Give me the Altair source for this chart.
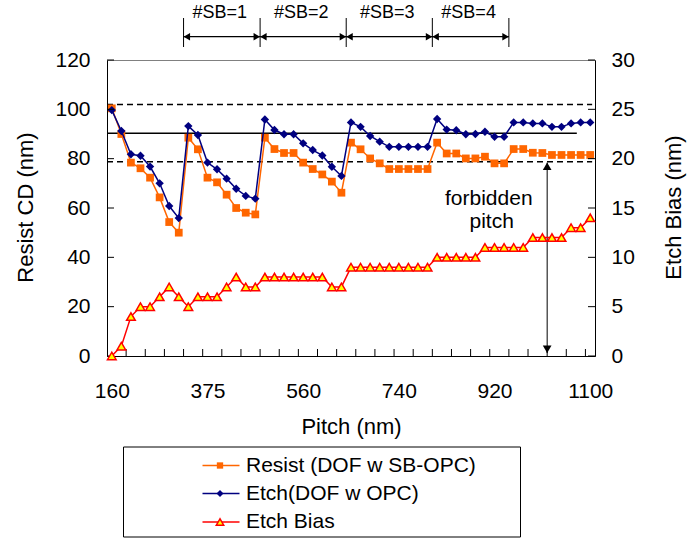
import json
import altair as alt
import pandas as pd

# ---------------- data ----------------
pitch_tick_labels = ["160", "375", "560", "740", "920", "1100"]
pitch_tick_index = [0, 10, 20, 30, 40, 50]

resist_cd = [100.4, 90.0, 78.4, 76.1, 72.3, 64.3, 54.3, 50.0,
             88.5, 83.8, 72.3, 70.4, 65.4, 60.0, 58.1, 57.4,
             88.5, 83.9, 82.3, 82.3, 78.4, 75.8, 73.6, 70.7, 66.2,
             86.5, 83.8, 80.1, 78.1, 75.8, 75.8, 75.8, 75.8, 75.8,
             86.5, 82.1, 82.1, 80.1, 80.1, 80.8, 78.1, 78.1,
             83.9, 83.9, 82.4, 82.3, 81.5, 81.5, 81.5, 81.5, 81.5]

etch_cd = [99.7, 91.2, 81.8, 81.2, 76.8, 70.0, 60.8, 55.9,
           93.2, 89.6, 78.4, 75.7, 71.9, 67.8, 64.9, 63.8,
           95.9, 91.6, 89.9, 89.9, 86.2, 83.5, 81.3, 76.7, 73.0,
           94.7, 92.9, 89.2, 86.9, 84.8, 84.8, 84.8, 84.8, 84.8,
           96.1, 91.8, 91.5, 89.9, 90.0, 90.9, 88.9, 88.9,
           94.7, 94.7, 94.3, 94.3, 92.9, 92.9, 94.3, 94.7, 94.7]

etch_bias = [0, 1, 4, 5, 5, 6, 7, 6,
             5, 6, 6, 6, 7, 8, 7, 7,
             8, 8, 8, 8, 8, 8, 8, 7, 7,
             9, 9, 9, 9, 9, 9, 9, 9, 9,
             10, 10, 10, 10, 10, 11, 11, 11,
             11, 11, 12, 12, 12, 12, 13, 13, 14]

cd_limits = [102.0, 78.8]
cd_target = [90.3]

sb_bounds = [7.5, 15.5, 24.5, 33.5, 41.5]
sb_labels = ["#SB=1", "#SB=2", "#SB=3", "#SB=4"]

forbidden_index = [45.5]
forbidden_top = [78.4]
forbidden_bottom = [1.2]
forbidden_text = ["forbidden", "pitch"]

left_ticks = [0, 20, 40, 60, 80, 100, 120]
right_ticks = [0, 5, 10, 15, 20, 25, 30]

legend_labels = ["Resist (DOF w SB-OPC)", "Etch(DOF w OPC)", "Etch Bias"]

# ---------------- styling ----------------
FONT = "Liberation Sans"
ORANGE = "#FF6600"
NAVY = "#000080"
RED = "#FF0000"
YELLOW = "#FFFF00"
W, H = 488, 296

x_scale = alt.Scale(domain=[-0.5, 50.5], nice=False, zero=False)
yl_scale = alt.Scale(domain=[0, 120], nice=False, zero=False)
yr_scale = alt.Scale(domain=[0, 30], nice=False, zero=False)

label_expr = json.dumps(pitch_tick_labels) + "[round(datum.value / 10)]"

x_axis = alt.Axis(values=pitch_tick_index, labelExpr=label_expr, ticks=False, grid=False,
                  domainColor="black", domainWidth=1, labelFont=FONT, labelFontSize=21,
                  labelColor="black", labelPadding=24, labelOverlap=False, labelFlush=False,
                  title="Pitch (nm)", titleFont=FONT, titleFontSize=22, titleFontWeight="normal",
                  titleColor="black", titleX=W / 2, titleY=77, titleAlign="center",
                  titleBaseline="alphabetic")

yl_axis = alt.Axis(orient="left", values=left_ticks, ticks=False, grid=False,
                   domainColor="black", domainWidth=1, labelFont=FONT, labelFontSize=21,
                   labelColor="black", labelPadding=17, labelFlush=False,
                   title="Resist CD (nm)", titleFont=FONT, titleFontSize=22,
                   titleFontWeight="normal", titleColor="black", titleAngle=270,
                   titleX=-82, titleY=147, titleAlign="center", titleBaseline="middle")

yr_axis = alt.Axis(orient="right", values=right_ticks, ticks=False, grid=False,
                   domainColor="black", domainWidth=1, labelFont=FONT, labelFontSize=21,
                   labelColor="black", labelPadding=16, labelFlush=False,
                   title="Etch Bias (nm)", titleFont=FONT, titleFontSize=22,
                   titleFontWeight="normal", titleColor="black", titleAngle=270,
                   titleX=78, titleY=147, titleAlign="center", titleBaseline="middle")

df = pd.DataFrame({"idx": list(range(len(resist_cd))), "resist": resist_cd,
                   "etch": etch_cd, "bias": etch_bias})
base = alt.Chart(df)


def xq(field):
    return alt.X(field, type="quantitative", scale=x_scale, axis=None)


def yl(field):
    return alt.Y(field, type="quantitative", scale=yl_scale, axis=None)


# reference lines
lim_df = pd.DataFrame({"v": cd_limits, "x0": [-0.5, -0.5], "x1": [50.2, 50.2]})
tgt_df = pd.DataFrame({"v": cd_target, "x0": [-0.5], "x1": [48.6]})
lim_rule = alt.Chart(lim_df).mark_rule(color="black", strokeWidth=1.5, strokeDash=[6, 4]).encode(
    x=xq("x0"), x2="x1", y=yl("v"))
tgt_rule = alt.Chart(tgt_df).mark_rule(color="black", strokeWidth=1.5).encode(
    x=xq("x0"), x2="x1", y=yl("v"))

# main series
resist_line = base.mark_line(color=ORANGE, strokeWidth=1.5).encode(
    x=alt.X("idx:Q", scale=x_scale, axis=x_axis),
    y=alt.Y("resist:Q", scale=yl_scale, axis=yl_axis))
resist_pts = base.mark_point(shape="square", filled=True, color=ORANGE, size=60, opacity=1).encode(
    x=xq("idx"), y=yl("resist"))
etch_line = base.mark_line(color=NAVY, strokeWidth=1.5).encode(x=xq("idx"), y=yl("etch"))
etch_pts = base.mark_point(shape="diamond", filled=True, color=NAVY, size=70, opacity=1).encode(
    x=xq("idx"), y=yl("etch"))

# forbidden pitch arrow
fb_df = pd.DataFrame({"x": forbidden_index, "top": forbidden_top, "bot": forbidden_bottom})
fb_rule = alt.Chart(fb_df).mark_rule(color="black", strokeWidth=1).encode(
    x=xq("x"), y=yl("top"), y2="bot")
fb_up = alt.Chart(fb_df).mark_point(shape="triangle-up", filled=True, color="black", size=76,
                                    opacity=1, yOffset=3.7).encode(x=xq("x"), y=yl("top"))
fb_down = alt.Chart(fb_df).mark_point(shape="triangle-down", filled=True, color="black", size=76,
                                      opacity=1, yOffset=-3.7).encode(x=xq("x"), y=yl("bot"))
fb_txt_df = pd.DataFrame({"t": forbidden_text, "x": [39.4, 39.7], "y": [61.2, 51.9]})
fb_txt = alt.Chart(fb_txt_df).mark_text(font=FONT, fontSize=21, color="black",
                                        align="center", baseline="alphabetic").encode(
    x=xq("x"), y=yl("y"), text="t:N")

# #SB brackets above the plot
sbv_df = pd.DataFrame({"b": sb_bounds})
sbs_df = pd.DataFrame({"s": sb_bounds[:-1], "e": sb_bounds[1:], "label": sb_labels})
sb_v = alt.Chart(sbv_df).mark_rule(color="black", strokeWidth=1).encode(
    x=xq("b"), y=alt.value(-42), y2=alt.value(-13))
sb_h = alt.Chart(sbs_df).mark_rule(color="black", strokeWidth=1.2).encode(
    x=xq("s"), x2="e", y=alt.value(-23.3))
sb_l = alt.Chart(sbs_df).mark_point(shape="triangle-left", filled=True, color="black", size=56,
                                    opacity=1, xOffset=3.3).encode(x=xq("s"), y=alt.value(-23.3))
sb_r = alt.Chart(sbs_df).mark_point(shape="triangle-right", filled=True, color="black", size=56,
                                    opacity=1, xOffset=-3.3).encode(x=xq("e"), y=alt.value(-23.3))
sb_t = alt.Chart(sbs_df).transform_calculate(m="(datum.s + datum.e) / 2").mark_text(
    font=FONT, fontSize=18, color="black", align="center", baseline="middle", dx=-2).encode(
    x=xq("m:Q"), y=alt.value(-47), text="label:N")

# inside tick marks
xt_df = pd.DataFrame({"p": [k + 1.5 for k in range(0, 49, 2)]})
x_ticks = alt.Chart(xt_df).mark_rule(color="black", strokeWidth=1).encode(
    x=xq("p"), y=alt.value(H), y2=alt.value(H - 7))
ylt_df = pd.DataFrame({"v": left_ticks})
yl_ticks = alt.Chart(ylt_df).mark_rule(color="black", strokeWidth=1).encode(
    y=yl("v"), x=alt.value(0), x2=alt.value(7))

# legend (drawn manually, Excel style)
leg_rows = [405.5, 433.5, 462]
leg_box = alt.Chart(pd.DataFrame({"a": [0]})).mark_rect(
    fill="white", stroke="black", strokeWidth=1).encode(
    x=alt.value(16.5), x2=alt.value(413.5), y=alt.value(387), y2=alt.value(477))
leg_layers = [leg_box]
leg_styles = [(ORANGE, "square", ORANGE, 40), (NAVY, "diamond", NAVY, 50), (RED, "triangle-up", YELLOW, 55)]
for (lc, shp, fc, sz), lab, ry in zip(leg_styles, legend_labels, leg_rows):
    one = alt.Chart(pd.DataFrame({"label": [lab]}))
    leg_layers.append(one.mark_rule(color=lc, strokeWidth=1.5).encode(
        x=alt.value(95.5), x2=alt.value(132.5), y=alt.value(ry)))
    leg_layers.append(one.mark_point(shape=shp, filled=True, fill=fc, stroke=lc,
                                     strokeWidth=1.5 if shp == "triangle-up" else 0,
                                     size=sz, opacity=1).encode(
        x=alt.value(113), y=alt.value(ry)))
    leg_layers.append(one.mark_text(font=FONT, fontSize=21, color="black", align="left",
                                    baseline="middle").encode(
        x=alt.value(139), y=alt.value(ry), text="label:N"))

left = alt.layer(lim_rule, tgt_rule, resist_line, resist_pts, etch_line, etch_pts,
                 fb_rule, fb_up, fb_down, fb_txt, sb_v, sb_h, sb_l, sb_r, sb_t,
                 x_ticks, yl_ticks, *leg_layers).resolve_axis(x="independent", y="independent")

# right axis: etch bias
bias_line = base.mark_line(color=RED, strokeWidth=1.5).encode(
    x=xq("idx"), y=alt.Y("bias:Q", scale=yr_scale, axis=yr_axis))
bias_pts = base.mark_point(shape="triangle-up", filled=True, fill=YELLOW, stroke=RED,
                           strokeWidth=1.5, size=75, opacity=1).encode(
    x=xq("idx"), y=alt.Y("bias:Q", scale=yr_scale, axis=None))
yrt_df = pd.DataFrame({"v": right_ticks})
yr_ticks = alt.Chart(yrt_df).mark_rule(color="black", strokeWidth=1).encode(
    y=alt.Y("v:Q", scale=yr_scale, axis=None), x=alt.value(W), x2=alt.value(W - 7))
right = alt.layer(bias_line, bias_pts, yr_ticks).resolve_axis(x="independent", y="independent")

chart = alt.layer(left, right).resolve_scale(y="independent").resolve_axis(
    x="independent", y="independent").properties(
    width=W, height=H,
    padding={"left": 107, "top": 60, "right": 92, "bottom": 186},
    autosize=alt.AutoSizeParams(type="none"),
    background="white",
).configure_view(stroke="#808080", strokeWidth=1)

chart.save("out.html", embed_options={"renderer": "svg", "actions": False})
